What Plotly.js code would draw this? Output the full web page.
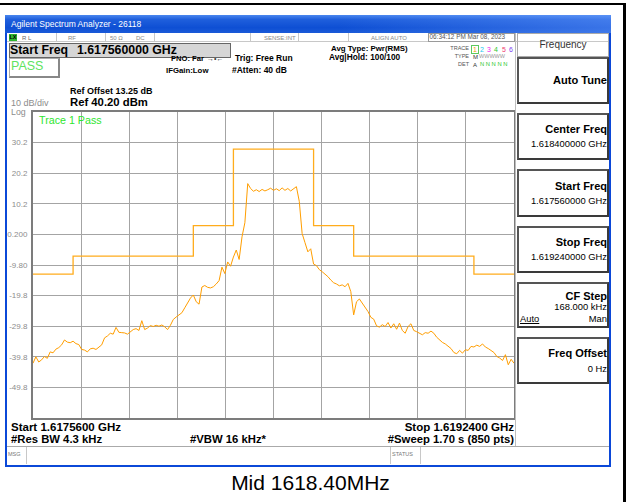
<!DOCTYPE html>
<html><head><meta charset="utf-8">
<script src="https://cdn.plot.ly/plotly-3.0.1.min.js"></script>
<style>
html,body{margin:0;padding:0;background:#fff;}
body{width:632px;height:502px;position:relative;overflow:hidden;font-family:"Liberation Sans",Arial,sans-serif;}
.a{position:absolute;white-space:nowrap;}
#chart{position:absolute;left:0;top:0;width:632px;height:502px;}
</style></head><body>
<div id="chart"></div>
<script>
// ---- data ----
const freqMHz = [
1617.56,1617.57,1617.58,1617.59,1617.60,1617.61,1617.62,1617.63,1617.64,1617.65,
1617.66,1617.67,1617.68,1617.69,1617.70,1617.71,1617.72,1617.73,1617.74,1617.75,
1617.76,1617.77,1617.78,1617.79,1617.80,1617.81,1617.82,1617.83,1617.84,1617.85,
1617.86,1617.87,1617.88,1617.89,1617.90,1617.91,1617.92,1617.93,1617.94,1617.95,
1617.96,1617.97,1617.98,1617.99,1618.00,1618.01,1618.02,1618.03,1618.04,1618.05,
1618.06,1618.07,1618.08,1618.09,1618.10,1618.11,1618.12,1618.13,1618.14,1618.15,
1618.16,1618.17,1618.18,1618.19,1618.20,1618.21,1618.22,1618.23,1618.24,1618.25,
1618.26,1618.27,1618.28,1618.29,1618.30,1618.31,1618.32,1618.33,1618.34,1618.35,
1618.36,1618.37,1618.38,1618.39,1618.40,1618.41,1618.42,1618.43,1618.44,1618.45,
1618.46,1618.47,1618.48,1618.49,1618.50,1618.51,1618.52,1618.53,1618.54,1618.55,
1618.56,1618.57,1618.58,1618.59,1618.60,1618.61,1618.62,1618.63,1618.64,1618.65,
1618.66,1618.67,1618.68,1618.69,1618.70,1618.71,1618.72,1618.73,1618.74,1618.75,
1618.76,1618.77,1618.78,1618.79,1618.80,1618.81,1618.82,1618.83,1618.84,1618.85,
1618.86,1618.87,1618.88,1618.89,1618.90,1618.91,1618.92,1618.93,1618.94,1618.95,
1618.96,1618.97,1618.98,1618.99,1619.00,1619.01,1619.02,1619.03,1619.04,1619.05,
1619.06,1619.07,1619.08,1619.09,1619.10,1619.11,1619.12,1619.13,1619.14,1619.15,
1619.16,1619.17,1619.18,1619.19,1619.20,1619.21,1619.22,1619.23,1619.24];
const traceDbm = [
-41.9,-39.8,-41.5,-40.8,-39.7,-40.3,-38.2,-38.5,-37.3,-36.8,
-35.9,-34.3,-35.0,-35.2,-34.7,-35.5,-35.8,-37.4,-37.6,-38.2,
-37.2,-37.0,-37.4,-36.6,-35.9,-33.6,-33.0,-32.1,-32.4,-30.2,
-31.8,-31.9,-32.0,-32.4,-31.5,-30.9,-30.6,-31.2,-28.0,-30.9,
-30.4,-29.6,-29.9,-29.5,-29.8,-29.4,-30.0,-30.9,-29.5,-27.6,
-26.8,-26.0,-25.4,-23.8,-22.0,-20.6,-19.6,-21.8,-22.6,-17.0,
-16.5,-17.1,-17.3,-16.9,-16.0,-14.9,-10.5,-12.6,-8.8,-10.2,
-7.2,-4.9,-8.0,-0.6,4.0,16.8,15.2,14.3,14.8,14.2,
14.9,14.4,14.8,15.3,14.6,15.1,14.5,15.4,14.6,15.2,
14.4,15.0,15.8,11.0,0.5,-2.5,-5.5,-4.5,-9.5,-10.0,
-11.3,-12.0,-12.7,-13.6,-14.7,-15.6,-16.0,-16.6,-16.3,-16.9,
-15.8,-18.5,-26.1,-21.8,-20.9,-22.3,-23.9,-25.0,-26.9,-27.5,
-29.7,-30.1,-29.3,-29.9,-28.6,-30.4,-29.0,-30.8,-28.8,-31.2,
-32.1,-29.9,-29.0,-31.2,-31.6,-32.1,-32.6,-31.9,-32.1,-31.4,
-32.1,-33.4,-34.3,-35.1,-35.6,-36.4,-37.1,-38.4,-38.8,-37.7,
-38.6,-37.5,-37.7,-36.4,-36.6,-36.0,-36.4,-35.6,-36.6,-37.1,
-37.9,-38.4,-39.7,-40.2,-41.0,-39.1,-42.4,-40.6,-41.9];
const limitFreqMHz = [1617.56,1617.70,1618.12,1618.26,1618.54,1618.68,1619.10,1619.24];
const limitDbm = [-12.8,-6.9,3.1,28.1,3.1,-6.9,-12.8,-12.8];
const xDivMHz = [1617.728,1617.896,1618.064,1618.232,1618.400,1618.568,1618.736,1618.904,1619.072];
const yTickVals = [30.2,20.2,10.2,0.2,-9.8,-19.8,-29.8,-39.8,-49.8];
const yTickText = ['30.2','20.2','10.2','0.200','-9.80','-19.8','-29.8','-39.8','-49.8'];
const xRange = [1617.56,1619.24];
const yRange = [-59.8,40.2];

// ---- helpers for the instrument frame ----
function B(x,y,w,h,css){const d=document.createElement('div');d.style.cssText='position:absolute;box-sizing:border-box;left:'+x+'px;top:'+y+'px;width:'+w+'px;height:'+h+'px;'+(css||'');document.body.appendChild(d);return d;}
function T(txt,x,cy,size,o){o=o||{};const d=document.createElement('div');d.className='a';d.textContent=txt;d.style.fontSize=size+'px';d.style.lineHeight=size+'px';d.style.top=(cy-size/2)+'px';
 if(o.align==='right'){d.style.right=(632-x)+'px';}else if(o.align==='center'){d.style.left=(x-150)+'px';d.style.width='300px';d.style.textAlign='center';}else{d.style.left=x+'px';}
 if(o.bold)d.style.fontWeight='bold';d.style.color=o.color||'#000';if(o.u)d.style.textDecoration='underline';if(o.ls)d.style.letterSpacing=o.ls+'px';document.body.appendChild(d);return d;}

// outer black lines
B(0,3,626,2,'background:#000');
B(623,3,3,499,'background:#000');
// window
B(5,15,606,452,'border:2px solid #0b48d8;border-top:none;');
B(5,15,606,18,'background:linear-gradient(to right,rgba(0,0,0,0) 55%,rgba(110,160,255,0.45)),linear-gradient(to bottom,#4a86ee 0%,#1f5fdc 25%,#0e4fd4 70%,#1a5ad8 100%);');
T('Agilent Spectrum Analyzer - 26118',11,24.5,8.5,{color:'#fff'});
// status row
B(7,33,602,9,'border-bottom:1px solid #c8c8c8;');
[56,105,154,250,298,348].forEach(x=>B(x,33,1,9,'background:#c8c8c8'));
B(428,33,87,9,'border:1px solid #9a9a9a;');
B(9,34,8,7,'background:#2fb52f;');
T('LX',9.5,37.6,5.5,{bold:true});
T('R L',22,37.5,6,{color:'#666'});
T('RF',68,37.5,6,{color:'#888'});
T('50 Ω',110,37.5,6,{color:'#888'});
T('DC',136,37.5,6,{color:'#888'});
T('SENSE:INT',264,37.5,6,{color:'#888'});
T('ALIGN AUTO',371,37.5,6,{color:'#888'});
T('06:34:12 PM Mar 08, 2023',429.5,37.5,6.4,{color:'#555'});
// start freq box
B(9,43,222,15,'background:#d6d6d6;border:1px solid #666;');
T('Start Freq',10,50.3,12.3,{bold:true});
T('1.617560000 GHz',77,50.3,12.3,{bold:true});
// PASS box
B(9,58,51,20,'border:1px solid #aaa;border-right:2px solid #888;border-bottom:2px solid #888;');
T('PASS',11,66.5,12.5,{color:'#5fe35f'});
T('PNO: Far',171,58.5,7.6,{bold:true});
T('→•←',207,58.5,7,{color:'#333'});
T('IFGain:Low',166,70.5,7.8,{bold:true});
T('Trig: Free Run',235,58.5,8.5,{bold:true});
T('#Atten: 40 dB',232,70.5,8.5,{bold:true});
T('Avg Type: Pwr(RMS)',331,48.5,7.9,{bold:true});
T('Avg|Hold: 100/100',329,57.5,8.3,{bold:true});
T('TRACE',469,48.5,5.5,{align:'right',color:'#555'});
T('TYPE',469,57,5.5,{align:'right',color:'#555'});
T('DET',469,65,5.5,{align:'right',color:'#555'});
B(471,45,8,9,'border:1px solid #5ec85e;');
T('1',473,49.5,7,{color:'#f0a000'});
T('2',480,49.5,7,{color:'#19c8f0'});
T('3',487,49.5,7,{color:'#f028f0'});
T('4',494,49.5,7,{color:'#30c830'});
T('5',502,49.5,7,{color:'#f04070'});
T('6',509,49.5,7,{color:'#8040f0'});
T('M',473,57,6,{color:'#333'});
T('WWWWW',479,57,5.5,{color:'#999'});
T('A',473,65,6,{color:'#333'});
T('N N N N N',480,65,5.8,{color:'#30c830'});
// reference info
T('Ref Offset 13.25 dB',70,91.5,9,{bold:true});
T('Ref 40.20 dBm',70,103,11.3,{bold:true});
T('10 dB/div',11,103,9,{color:'#8c8c8c'});
T('Log',11,112,8.8,{color:'#8c8c8c'});
T('Trace 1 Pass',39,120.5,10.7,{color:'#2ee62e'});
// softkey column
B(515,33,1,414,'background:#bdbdbd');
B(517,33,92,24,'border:1px solid #aaa;');
T('Frequency',563,44.5,10,{align:'center',color:'#333'});
const keys=[[57,104],[113,160],[169,217],[226,273],[282,328],[337,384]];
keys.forEach(k=>B(517,k[0],92,k[1]-k[0],'border:2px solid #3a3a3a;border-top-color:#555;border-left-color:#555;background:#fff;'));
T('Auto Tune',607,81,11.1,{align:'right',bold:true});
T('Center Freq',607,129,11,{align:'right',bold:true});
T('1.618400000 GHz',607,144,9.4,{align:'right'});
T('Start Freq',607,186,11,{align:'right',bold:true});
T('1.617560000 GHz',607,201,9.4,{align:'right'});
T('Stop Freq',607,242,11,{align:'right',bold:true});
T('1.619240000 GHz',607,257,9.4,{align:'right'});
T('CF Step',607,296,11,{align:'right',bold:true});
T('168.000 kHz',607,307,9.4,{align:'right'});
T('Auto',520,318.5,9.4,{u:true});
T('Man',607,318.5,9.4,{align:'right'});
T('Freq Offset',607,353,11,{align:'right',bold:true});
T('0 Hz',607,369,9.4,{align:'right'});
// bottom annotations
T('Start 1.6175600 GHz',11,427.5,11.5,{bold:true});
T('Stop 1.6192400 GHz',514,427.5,11.5,{align:'right',bold:true});
T('#Res BW 4.3 kHz',11,439.5,11.3,{bold:true});
T('#VBW 16 kHz*',190,439.5,11.3,{bold:true});
T('#Sweep  1.70 s (850 pts)',514,439.5,11.3,{align:'right',bold:true});
B(7,446,602,18,'border-top:1px solid #aaa;');
[26,390,420].forEach(x=>B(x,447,1,17,'background:#c8c8c8'));
T('MSG',8,454.5,5.5,{color:'#777'});
T('STATUS',392,454.5,5.5,{color:'#777'});
T('Mid 1618.40MHz',310.5,482,21,{align:'center'});

// ---- chart ----
Plotly.newPlot('chart',[
 {x:limitFreqMHz,y:limitDbm,type:'scatter',mode:'lines',line:{shape:'hv',color:'#ffac1c',width:1.3},hoverinfo:'skip'},
 {x:freqMHz,y:traceDbm,type:'scatter',mode:'lines',line:{color:'#ff9e00',width:1},hoverinfo:'skip'}
],{
 width:632,height:502,margin:{l:33,r:118,t:112,b:84,pad:0},showlegend:false,
 paper_bgcolor:'rgba(0,0,0,0)',plot_bgcolor:'#ffffff',
 xaxis:{range:xRange,tickvals:xDivMHz,showticklabels:false,ticks:'',showgrid:true,gridcolor:'#a4a4a4',gridwidth:1,
   showline:true,mirror:true,linecolor:'#7c7c7c',linewidth:2,zeroline:false,fixedrange:true},
 yaxis:{range:yRange,tickvals:yTickVals,ticktext:yTickText,ticks:'',ticklabelstandoff:2,
   tickfont:{family:'Liberation Sans, Arial, sans-serif',size:8,color:'#8c8c8c'},
   showgrid:true,gridcolor:'#a4a4a4',gridwidth:1,showline:true,mirror:true,linecolor:'#7c7c7c',linewidth:2,zeroline:false,fixedrange:true}
},{staticPlot:true,displayModeBar:false});
</script>
</body></html>
